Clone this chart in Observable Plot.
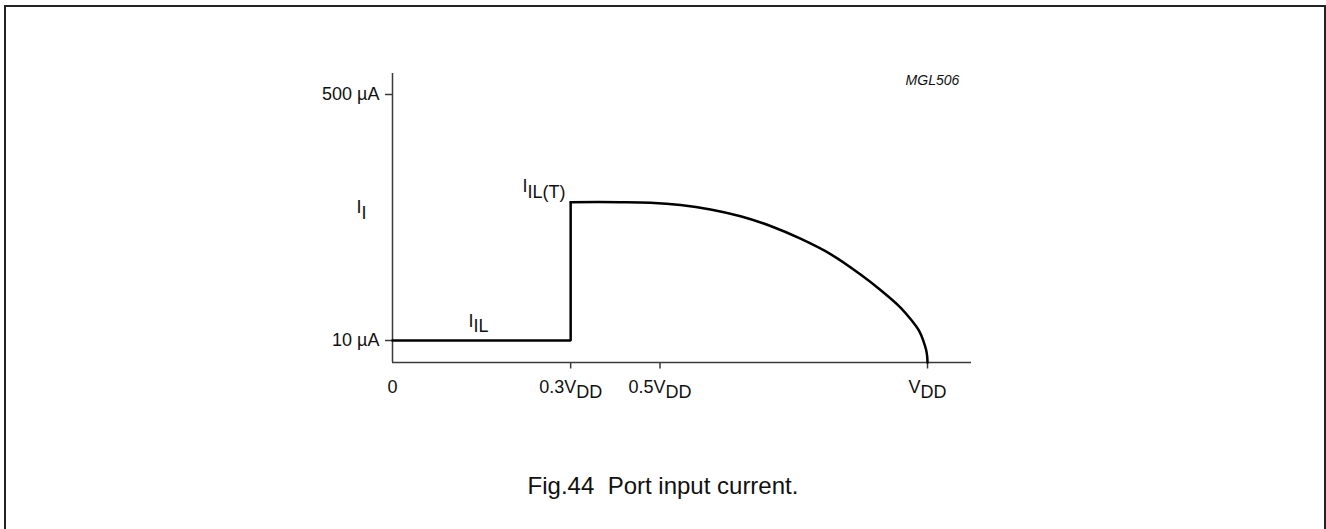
<!DOCTYPE html>
<html>
<head>
<meta charset="utf-8">
<script src="https://cdn.jsdelivr.net/npm/d3@7"></script>
<script src="https://cdn.jsdelivr.net/npm/@observablehq/plot@0.6"></script>
<style>
  html, body { margin: 0; padding: 0; background: #fff; overflow: hidden; }
  #wrap { position: relative; width: 1326px; height: 529px; font-family: "Liberation Sans", Arial, Helvetica, sans-serif; }
  #frame { position: absolute; left: 4px; top: 5px; width: 1322px; height: 600px; box-sizing: border-box; border: 2px solid #222; }
  #chart { position: absolute; left: 0; top: 0; }
  #caption { position: absolute; left: 0; top: 474px; width: 1326px; text-align: center; font-size: 24px; line-height: 24px; color: #111; white-space: pre; }
</style>
</head>
<body>
<div id="wrap">
  <div id="frame"></div>
  <div id="chart"></div>
  <div id="caption">Fig.44  Port input current.</div>
</div>
<script>
// x in units of VDD (schematic positions), y in µA (schematic)
const xTickPos = [0, 0.333, 0.5, 1];
const xTickLabels = ["0", "0.3V_DD", "0.5V_DD", "V_DD"];
const yTickPos = [10, 500];
const yTickLabels = ["10 µA", "500 µA"];

// low-level leakage then step at 0.3VDD
const stepX = [0, 0.333, 0.333];
const stepY = [10, 10, 285.5];

// transition-current arc
const arcX = [0.333, 0.4262, 0.4822, 0.5383, 0.5944, 0.6505, 0.7065, 0.7626, 0.8187, 0.8748, 0.9121, 0.9495, 0.9682, 0.9850, 0.9925, 0.9972, 0.9993, 1.0];
const arcY = [285.5, 285.5, 284.3, 279.7, 270.9, 257.4, 238.1, 212.8, 182.1, 141.5, 110.6, 75.7, 52.8, 27.9, 8.4, -7.9, -20.9, -33.8];

const xDom = [0, 1.0822];
const yDom = [-33.8, 541.8];

const step = stepX.map((x, i) => ({x, y: stepY[i]}));
const arc = arcX.map((x, i) => ({x, y: arcY[i]}));
const xt = xTickPos.map((p, i) => ({p, label: xTickLabels[i]}));
const yt = yTickPos.map((p, i) => ({p, label: yTickLabels[i]}));

const axisColor = "#3a3a3a";
const pxX = 1 / 535;     // data units per px (x)
const pxY = 1.99187;     // data units per px (y)

const chart = Plot.plot({
  width: 1326,
  height: 430,
  margin: 0,
  x: {domain: xDom, range: [392, 971], axis: null},
  y: {domain: yDom, range: [362, 73], axis: null},
  style: {fontFamily: "'Liberation Sans', Arial, Helvetica, sans-serif", fontSize: "18px", color: "#111", background: "transparent", overflow: "visible"},
  marks: [
    // axes
    Plot.ruleY([yDom[0]], {x1: xDom[0], x2: xDom[1], stroke: axisColor, strokeWidth: 1.5}),
    Plot.ruleX([xDom[0]], {y1: yDom[0], y2: yDom[1], stroke: axisColor, strokeWidth: 1.5}),
    Plot.ruleY(yt, {y: "p", x1: -7 * pxX, x2: 0, stroke: axisColor, strokeWidth: 1.5}),
    Plot.ruleX(xt.filter(d => d.p > 0), {x: "p", y1: yDom[0], y2: yDom[0] - 6.5 * pxY, stroke: axisColor, strokeWidth: 1.5}),
    Plot.text(yt, {x: 0, y: "p", text: "label", textAnchor: "end", dx: -13, fontSize: 18, fill: "#111"}),
    Plot.text(xt, {x: "p", y: yDom[0], text: "label", dy: 30, lineAnchor: "bottom", textAnchor: "middle", fontSize: 18, fill: "#111"}),
    // data
    Plot.line(step, {x: "x", y: "y", stroke: "#000", strokeWidth: 2.5, strokeLinejoin: "miter"}),
    Plot.line(arc, {x: "x", y: "y", stroke: "#000", strokeWidth: 2.5, curve: "catmull-rom"}),
    // annotations
    Plot.text(["I_I"], {x: -0.0673, y: 263.0, text: d => d, textAnchor: "start", lineAnchor: "bottom", fontSize: 18, fill: "#111"}),
    Plot.text(["I_IL(T)"], {x: 0.243, y: 304.8, text: d => d, textAnchor: "start", lineAnchor: "bottom", fontSize: 18, fill: "#111"}),
    Plot.text(["I_IL"], {x: 0.142, y: 37.9, text: d => d, textAnchor: "start", lineAnchor: "bottom", fontSize: 18, fill: "#111"}),
    Plot.text(["MGL506"], {x: 0.959, y: 517.9, text: d => d, textAnchor: "start", lineAnchor: "bottom", fontSize: 14, fontStyle: "italic", fill: "#111"})
  ]
});

// turn "A_B" into A with subscript B
const ns = "http://www.w3.org/2000/svg";
chart.querySelectorAll("text").forEach(t => {
  const s = t.textContent;
  if (!s.includes("_")) return;
  const [a, b] = s.split("_");
  while (t.firstChild) t.removeChild(t.firstChild);
  const t1 = document.createElementNS(ns, "tspan");
  t1.textContent = a;
  const t2 = document.createElementNS(ns, "tspan");
  t2.setAttribute("dy", "0.33em");
  t2.textContent = b;
  t.appendChild(t1);
  t.appendChild(t2);
});

document.getElementById("chart").appendChild(chart);
</script>
</body>
</html>
